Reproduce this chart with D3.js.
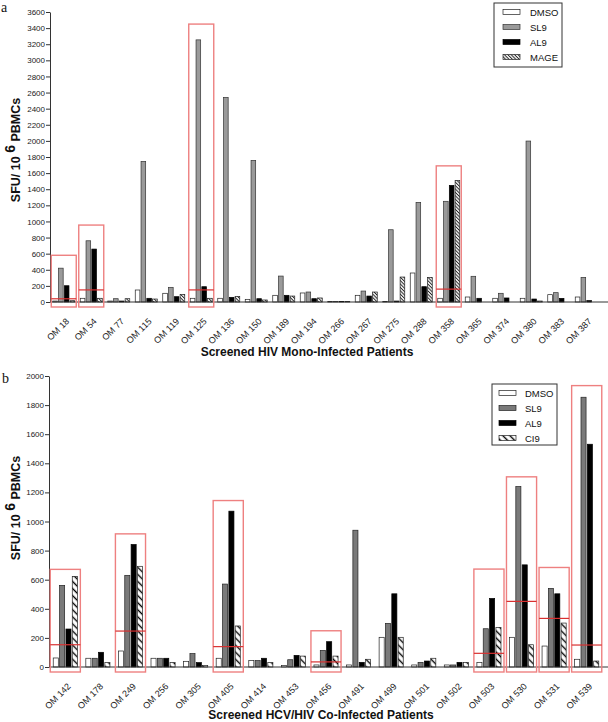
<!DOCTYPE html>
<html><head><meta charset="utf-8">
<script src="https://cdn.jsdelivr.net/npm/d3@7"></script>
<style>
body{margin:0;background:#fff;}
svg text{font-family:"Liberation Sans",Arial,sans-serif;}
</style></head>
<body><svg id="chart" width="608" height="722"></svg>
<script>
// ---------- Panel a data ----------
const catsA = ["OM 18","OM 54","OM 77","OM 115","OM 119","OM 125","OM 136","OM 150","OM 189","OM 194","OM 266","OM 267","OM 275","OM 288","OM 358","OM 365","OM 374","OM 380","OM 383","OM 387"];
const seriesA = ["DMSO","SL9","AL9","MAGE"];
const dmsoA = [12,46,12,149,108,46,46,33,83,112,8,83,8,360,46,62,46,46,91,62];
const sl9A  = [420,760,41,1745,182,3254,2540,1758,322,124,6,136,897,1237,1250,319,108,1998,116,306];
const al9A  = [202,657,12,46,66,190,58,41,83,41,8,74,12,190,1448,46,50,37,45,17];
const mageA = [16,46,41,37,95,46,70,25,74,50,8,124,310,306,1510,0,0,12,0,0];
const yTicksA = d3.range(0,3601,200);
// highlighted patients in panel a: box top and threshold line
const boxCatsA = ["OM 18","OM 54","OM 125","OM 358"];
const boxTopA = [580,955,3450,1690];
const threshA = [40,150,150,160];

// ---------- Panel b data ----------
const catsB = ["OM 142","OM 178","OM 249","OM 256","OM 305","OM 405","OM 414","OM 453","OM 456","OM 491","OM 499","OM 501","OM 502","OM 503","OM 530","OM 531","OM 539"];
const seriesB = ["DMSO","SL9","AL9","CI9"];
const dmsoB = [62,60,110,60,39,60,44,11,14,14,204,14,14,32,204,144,53];
const sl9B  = [561,60,630,60,92,570,44,50,114,940,300,32,14,263,1240,540,1854];
const al9B  = [261,101,842,60,30,1071,60,80,174,32,503,41,32,471,702,503,1531];
const ci9B  = [623,30,692,30,11,282,30,75,75,53,204,60,32,272,153,302,41];
const yTicksB = d3.range(0,2001,200);
const boxCatsB = ["OM 142","OM 249","OM 405","OM 456","OM 503","OM 530","OM 531","OM 539"];
const boxTopB = [671,915,1144,249,673,1307,684,1934];
const threshB = [153,247,140,35,94,451,334,151];
</script>
<script>
const FONT = "'Liberation Sans', Arial, sans-serif";
const svg = d3.select("#chart");
const defs = svg.append("defs");
// hatch patterns
function hatch(id, size, sw, color, bg){
  const p = defs.append("pattern").attr("id",id).attr("patternUnits","userSpaceOnUse")
    .attr("width",size).attr("height",size).attr("patternTransform","rotate(-45)");
  p.append("rect").attr("width",size).attr("height",size).attr("fill",bg);
  p.append("line").attr("x1",size/2).attr("x2",size/2).attr("y1",0).attr("y2",size)
    .attr("stroke",color).attr("stroke-width",sw);
}
hatch("mage",2.4,1.0,"#222","#fff");
hatch("ci9",5,1.4,"#000","#fff");

function panel(cfg){
  const g = svg.append("g");
  const x0 = d3.scaleBand().domain(cfg.cats).range(cfg.xr).paddingInner(cfg.padIn).paddingOuter(cfg.padIn/2);
  const x1 = d3.scaleBand().domain(cfg.series).range([0,x0.bandwidth()]).paddingInner(0.2);
  const y = d3.scaleLinear().domain([0,cfg.ymax]).range(cfg.yr);

  // bars
  const rows = cfg.cats.map((c,i)=>({cat:c, vals:cfg.series.map((s,j)=>({s, v:cfg.values[j][i]}))}));
  const grp = g.selectAll("g.grp").data(rows).join("g").attr("transform",d=>`translate(${x0(d.cat)},0)`);
  grp.selectAll("rect").data(d=>d.vals.filter(v=>v.v>0)).join("rect")
    .attr("x",d=>x1(d.s)).attr("width",x1.bandwidth())
    .attr("y",d=>y(d.v)).attr("height",d=>y(0)-y(d.v))
    .attr("fill",d=>cfg.fills[d.s]).attr("stroke",d=>cfg.strokes[d.s]).attr("stroke-width",0.7);

  // y axis
  const ya = d3.axisLeft(y).tickValues(cfg.yticks).tickFormat(d3.format("d")).tickSize(4).tickSizeOuter(0);
  const yg = g.append("g").attr("transform",`translate(${cfg.xr[0]},0)`).call(ya).attr("font-family",FONT);
  yg.select(".domain").attr("stroke","#333");
  yg.selectAll(".tick line").attr("stroke","#333");
  yg.selectAll("text").attr("font-size",8).attr("fill","#222").attr("x",-5);

  // x axis
  const xa = d3.axisBottom(x0).tickSize(0).tickSizeOuter(0);
  const xg = g.append("g").attr("transform",`translate(0,${cfg.yr[0]})`).call(xa).attr("font-family",FONT);
  xg.select(".domain").attr("d",`M${cfg.xr[0]},0H608`).attr("stroke","#333");
  xg.selectAll(".tick text").attr("font-size",9).attr("fill","#222")
    .attr("text-anchor","end").attr("dy",0).attr("y",0)
    .attr("transform","translate(6,20) rotate(-45)");

  // highlight boxes
  cfg.boxCats.forEach((c,i)=>{
    const xl = x0(c)-cfg.boxPad, xr = x0(c)+x0.bandwidth()+cfg.boxPad;
    g.append("rect").attr("x",xl).attr("y",y(cfg.boxTop[i]))
      .attr("width",xr-xl).attr("height",y(0)+5-y(cfg.boxTop[i]))
      .attr("fill","none").attr("stroke","#ee8080").attr("stroke-width",1.4);
    g.append("line").attr("x1",xl).attr("x2",xr).attr("y1",y(cfg.thresh[i])).attr("y2",y(cfg.thresh[i]))
      .attr("stroke","#d83030").attr("stroke-width",1.2);
  });

  // legend
  const L = cfg.legend;
  g.append("rect").attr("x",L.x).attr("y",L.y).attr("width",L.w).attr("height",L.h)
    .attr("fill","#fff").attr("stroke","#333").attr("stroke-width",1);
  cfg.series.forEach((s,i)=>{
    const yy = L.y + L.top + i*L.dy;
    g.append("rect").attr("x",L.x+L.sx).attr("y",yy-2.5).attr("width",17).attr("height",5)
      .attr("fill",cfg.fills[s]).attr("stroke",cfg.strokes[s]).attr("stroke-width",0.7);
    g.append("text").attr("x",L.x+L.tx).attr("y",yy+3.5).attr("font-size",9.5).attr("fill","#111").text(s);
  });

  // axis titles
  g.append("text").attr("x",cfg.xtitle[0]).attr("y",cfg.xtitle[1]).attr("text-anchor","middle")
    .attr("font-size",12).attr("font-weight","bold").attr("fill","#111").text(cfg.xtitleText);
  const yt = g.append("text").attr("transform",`translate(${cfg.ytitle[0]},${cfg.ytitle[1]}) rotate(-90)`)
    .attr("text-anchor","middle").attr("font-size",12.5).attr("font-weight","bold").attr("fill","#111");
  yt.append("tspan").text("SFU/ 10 ");
  yt.append("tspan").attr("dy",-5).attr("font-size",14).text("6");
  yt.append("tspan").attr("dy",5).text(" PBMCs");

  g.append("text").attr("x",cfg.label[0]).attr("y",cfg.label[1])
    .attr("font-size",14).attr("fill","#111").style("font-family","'Liberation Serif','Times New Roman',serif").text(cfg.labelText);
}

panel({
  cats:catsA, series:seriesA, values:[dmsoA,sl9A,al9A,mageA],
  xr:[50,600], padIn:0.2, ymax:3600, yr:[302,12], yticks:yTicksA,
  fills:{DMSO:"#fff",SL9:"#9a9a9a",AL9:"#000",MAGE:"url(#mage)"},
  strokes:{DMSO:"#222",SL9:"#333",AL9:"#000",MAGE:"#222"},
  boxCats:boxCatsA, boxTop:boxTopA, thresh:threshA, boxPad:1.5,
  legend:{x:494,y:3,w:68,h:64,top:9,dy:15,sx:9,tx:36},
  xtitle:[307,356], xtitleText:"Screened HIV Mono-Infected Patients",
  ytitle:[20,150], label:[1,12], labelText:"a"
});
panel({
  cats:catsB, series:seriesB, values:[dmsoB,sl9B,al9B,ci9B],
  xr:[49,603], padIn:0.26, ymax:2000, yr:[667,376], yticks:yTicksB,
  fills:{DMSO:"#fff",SL9:"#7a7a7a",AL9:"#000",CI9:"url(#ci9)"},
  strokes:{DMSO:"#222",SL9:"#222",AL9:"#000",CI9:"#222"},
  boxCats:boxCatsB, boxTop:boxTopB, thresh:threshB, boxPad:3,
  legend:{x:492,y:384,w:65,h:61,top:9,dy:15,sx:7,tx:33},
  xtitle:[321,719], xtitleText:"Screened HCV/HIV Co-Infected Patients",
  ytitle:[20,508], label:[2,383], labelText:"b"
});
</script>
</body></html>
